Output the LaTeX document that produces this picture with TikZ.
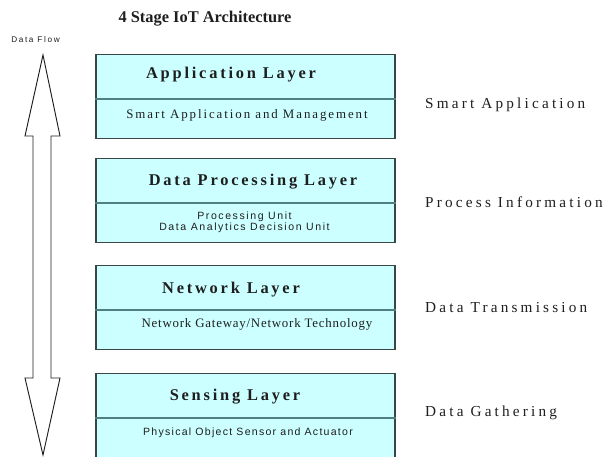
\documentclass[tikz,border=0pt]{standalone}
\usepackage{fontspec}
\setmainfont{Liberation Serif}
\newfontfamily\arialfont{Liberation Sans}
\definecolor{layerfill}{HTML}{CCFFFF}
\definecolor{layerline}{HTML}{3A4646}
\definecolor{splitcol}{HTML}{4F7F80}
\definecolor{inkgray}{HTML}{1E1E1E}
\tikzset{
  heading/.style={font=\fontsize{14}{16}\selectfont\bfseries, text=inkgray, inner sep=0pt},
  flowlabel/.style={font=\arialfont\fontsize{7}{8}\selectfont\addfontfeature{LetterSpace=20}, text=inkgray, inner sep=0pt},
  flowarrow/.style={draw=inkgray, line width=0.8pt, fill=white, line join=miter},
  layerbox/.style={rectangle, draw=layerline, line width=0.9pt, fill=layerfill,
                   minimum width=8.97cm, minimum height=2.52cm, inner sep=0pt, anchor=north},
  splitline/.style={draw=splitcol, line width=0.9pt},
  layertitle/.style={font=\fontsize{14}{16}\selectfont\bfseries\addfontfeature{LetterSpace=17}, text=inkgray, inner sep=0pt},
  layersub/.style={font=\fontsize{11}{12}\selectfont\addfontfeature{LetterSpace=15}, text=inkgray, inner sep=0pt},
  layersubsans/.style={font=\arialfont\fontsize{9}{9.4}\selectfont\addfontfeature{LetterSpace=15}, text=inkgray, inner sep=0pt, align=center},
  sidelabel/.style={font=\fontsize{13}{15}\selectfont\addfontfeature{LetterSpace=21}, text=inkgray, inner sep=0pt, anchor=west},
}
\begin{document}
\begin{tikzpicture}[x=0.03cm, y=-0.03cm]
  \useasboundingbox (0,0) rectangle (610,457);

  \node[heading] (title) at (205,19) {4 Stage IoT Architecture};
  \node[flowlabel] (flowlbl) at (35.5,40) {Data Flow};

  % --- freccia doppia del flusso dati
  \draw[flowarrow] (43,55) -- (60,136) -- (51,136) -- (51,378) -- (60,378) -- (43,455)
    -- (25,378) -- (33,378) -- (33,136) -- (25,136) -- cycle;

  % --- i quattro livelli
  \foreach \n/\t in {app/54, proc/158, net/265, sens/373}{
    \node[layerbox] (\n) at (245.5,\t) {};
    \draw[splitline] ([yshift=-1.35cm]\n.north west) -- ([yshift=-1.35cm]\n.north east);
  }

  \node[layertitle] (appT)  at (231,75)  {Application Layer};
  \node[layersub]   (appS)  at (247,115) {Smart Application and Management};

  \node[layertitle] (procT) at (253,182) {Data Processing Layer};
  \node[layersubsans] (procS) at (244.5,222.5) {Processing Unit\\Data Analytics Decision Unit};

  \node[layertitle] (netT)  at (231,290) {Network Layer};
  \node[layersub, font=\fontsize{11}{12}\selectfont\addfontfeature{LetterSpace=6}] (netS) at (257,324) {Network Gateway/Network Technology};

  \node[layertitle] (sensT) at (235,397) {Sensing Layer};
  \node[layersubsans, font=\arialfont\fontsize{9}{10}\selectfont\addfontfeature{LetterSpace=12}] (sensS) at (248,433) {Physical Object Sensor and Actuator};

  % --- etichette a destra
  \node[sidelabel] (lblA) at (425,105) {Smart Application};
  \node[sidelabel] (lblP) at (425,202) {Process Information};
  \node[sidelabel] (lblN) at (425,308) {Data Transmission};
  \node[sidelabel] (lblS) at (425,413) {Data Gathering};
\end{tikzpicture}
\end{document}
